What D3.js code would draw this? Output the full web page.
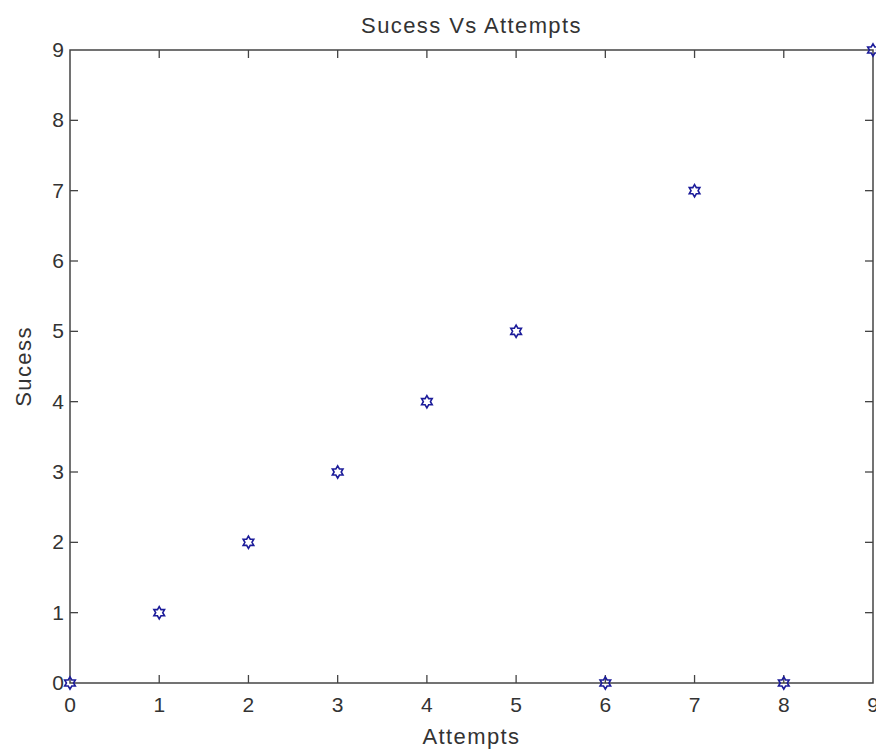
<!DOCTYPE html>
<html>
<head>
<meta charset="utf-8">
<script src="https://cdn.jsdelivr.net/npm/d3@7"></script>
<style>
  html, body { margin: 0; padding: 0; background: #fff; }
  svg { display: block; }
  text { font-family: "Liberation Sans", Arial, sans-serif; fill: #333; }
</style>
</head>
<body>
<svg id="chart" width="876" height="749"></svg>
<script>
const attempts = [0, 1, 2, 3, 4, 5, 6, 7, 8, 9];
const success  = [0, 1, 2, 3, 4, 5, 0, 7, 0, 9];
const xTicks = [0, 1, 2, 3, 4, 5, 6, 7, 8, 9];
const yTicks = [0, 1, 2, 3, 4, 5, 6, 7, 8, 9];
const titleText = "Sucess Vs Attempts";
const xLabelText = "Attempts";
const yLabelText = "Sucess";

const W = 876, H = 749;
const m = { left: 70, right: 3, top: 50, bottom: 66 };
const svg = d3.select("#chart");
const iw = W - m.left - m.right, ih = H - m.top - m.bottom;

const x = d3.scaleLinear().domain([0, 9]).range([m.left, m.left + iw]);
const y = d3.scaleLinear().domain([0, 9]).range([m.top + ih, m.top]);

const axisColor = "#444";
const tickLen = 8;

// box
svg.append("rect")
  .attr("x", m.left).attr("y", m.top).attr("width", iw).attr("height", ih)
  .attr("fill", "none").attr("stroke", axisColor).attr("stroke-width", 1.5);

// ticks (inward, on all four sides)
const g = svg.append("g").attr("stroke", axisColor).attr("stroke-width", 1.3);
xTicks.forEach(t => {
  if (t === 0 || t === 9) return;
  g.append("line").attr("x1", x(t)).attr("x2", x(t)).attr("y1", y(0)).attr("y2", y(0) - tickLen);
  g.append("line").attr("x1", x(t)).attr("x2", x(t)).attr("y1", y(9)).attr("y2", y(9) + tickLen);
});
yTicks.forEach(t => {
  if (t === 0 || t === 9) return;
  g.append("line").attr("x1", x(0)).attr("x2", x(0) + tickLen).attr("y1", y(t)).attr("y2", y(t));
  g.append("line").attr("x1", x(9)).attr("x2", x(9) - tickLen).attr("y1", y(t)).attr("y2", y(t));
});

// tick labels
svg.append("g").selectAll("text").data(xTicks).join("text")
  .attr("x", d => x(d)).attr("y", y(0) + 29)
  .attr("text-anchor", "middle").attr("font-size", 21)
  .text(d => d);
svg.append("g").selectAll("text").data(yTicks).join("text")
  .attr("x", x(0) - 6).attr("y", d => y(d) + 7)
  .attr("text-anchor", "end").attr("font-size", 21)
  .text(d => d);

// labels
const lab = { size: 22, ls: 1.4 };
svg.append("text").attr("x", x(4.5)).attr("y", 33)
  .attr("text-anchor", "middle").attr("font-size", lab.size).attr("letter-spacing", lab.ls).text(titleText);
svg.append("text").attr("x", x(4.5)).attr("y", 744)
  .attr("text-anchor", "middle").attr("font-size", lab.size).attr("letter-spacing", lab.ls).text(xLabelText);
svg.append("text")
  .attr("transform", `translate(31,${y(4.5)}) rotate(-90)`)
  .attr("text-anchor", "middle").attr("font-size", lab.size).attr("letter-spacing", lab.ls).text(yLabelText);

// hexagram symbol
const hexagram = {
  draw(ctx, size) {
    const R = Math.sqrt(size) / 2;
    const r = R / Math.sqrt(3);
    for (let i = 0; i < 12; i++) {
      const a = -Math.PI / 2 + i * Math.PI / 6;
      const rad = i % 2 === 0 ? R : r;
      const px = rad * Math.cos(a), py = rad * Math.sin(a);
      if (i === 0) ctx.moveTo(px, py); else ctx.lineTo(px, py);
    }
    ctx.closePath();
  }
};
const sym = d3.symbol().type(hexagram).size(150);
const pts = attempts.map((a, i) => ({ a, s: success[i] }));
svg.append("g").selectAll("path").data(pts).join("path")
  .attr("transform", d => `translate(${x(d.a)},${y(d.s)})`)
  .attr("d", sym)
  .attr("fill", "none").attr("stroke", "#1c1c9a").attr("stroke-width", 1.6);
</script>
</body>
</html>
